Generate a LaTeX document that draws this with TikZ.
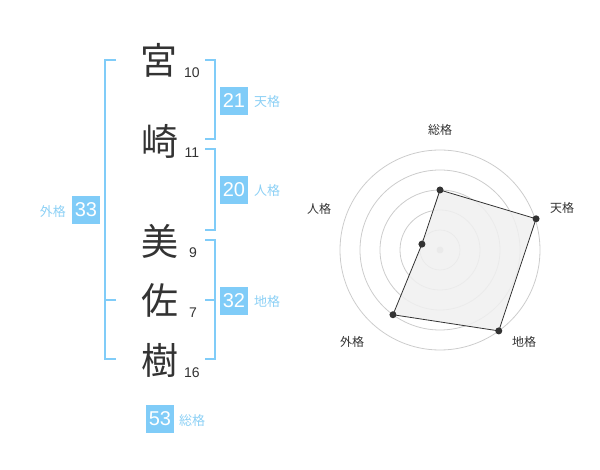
\documentclass[tikz,border=0pt]{standalone}
\usepackage{fontspec}
\setmainfont{Liberation Sans}
\newfontfamily\jp{Noto Sans CJK JP}
\definecolor{kblue}{RGB}{128,204,248}
\definecolor{lblue}{RGB}{140,208,245}
\definecolor{ink}{RGB}{51,51,51}
\definecolor{ring}{RGB}{204,204,204}
\definecolor{area}{RGB}{240,240,240}
\begin{document}
\begin{tikzpicture}[x=1pt,y=-1pt,
  kanji/.style={font=\jp\fontsize{37}{37}\selectfont, text=ink, inner sep=0},
  strokes/.style={font=\fontsize{14}{14}\selectfont, text=ink, inner sep=0},
  box/.style={fill=kblue, text=white, minimum size=28pt, inner sep=0, font=\fontsize{20}{20}\selectfont},
  lab/.style={text=lblue, font=\jp\fontsize{13}{13}\selectfont, inner sep=0},
  brk/.style={draw=kblue, line width=2pt},
  rlab/.style={text=ink, font=\jp\fontsize{12}{12}\selectfont, inner sep=0},
  ringline/.style={draw=ring, line width=0.8pt},
  dot/.style={circle, fill=ink, inner sep=0, minimum size=7pt}]
\useasboundingbox (0,0) rectangle (600,470);
% characters
\node[kanji] (k1) at (159,60) {宮};
\node[kanji] (k2) at (160,141) {崎};
\node[kanji] (k3) at (160,241) {美};
\node[kanji] (k4) at (160,300) {佐};
\node[kanji] (k5) at (160,360) {樹};
\node[strokes] (n1) at (192,73) {10};
\node[strokes] (n2) at (192,153) {11};
\node[strokes] (n3) at (193,253) {9};
\node[strokes] (n4) at (193,313) {7};
\node[strokes] (n5) at (192,373) {16};
% brackets
\coordinate (a1) at (205,60); \coordinate (a2) at (205,139);
\coordinate (b1) at (205,149); \coordinate (b2) at (205,230);
\coordinate (c1) at (205,240); \coordinate (c2) at (205,359); \coordinate (cm) at (205,300);
\draw[brk] (a1) -- ++(10,0) |- (a2);
\draw[brk] (b1) -- ++(10,0) |- (b2);
\draw[brk] (c1) -- ++(10,0) |- (c2);
\draw[brk] (cm) -- ++(10,0);
\coordinate (d1) at (116,60); \coordinate (d2) at (116,359); \coordinate (dm) at (116,300);
\draw[brk] (d1) -- ++(-11,0) |- (d2);
\draw[brk] (dm) -- ++(-11,0);
% boxes
\node[box] (t) at (234,101) {21};
\node[lab, anchor=west] (tl) at (254,102) {天格};
\node[box] (j) at (234,190) {20};
\node[lab, anchor=west] (jl) at (254,191) {人格};
\node[box] (c) at (234,301) {32};
\node[lab, anchor=west] (cl) at (254,302) {地格};
\node[box] (g) at (86,210) {33};
\node[lab, anchor=east] (gl) at (66,212) {外格};
\node[box] (s) at (160,419) {53};
\node[lab, anchor=west] (sl) at (179,421) {総格};
% radar
\coordinate (o) at (440,250);
\foreach \r in {20,40,60,80,100} \draw[ringline] (o) circle[radius=\r pt];
\fill[ring] (o) circle[radius=3.5pt];
\coordinate (p1) at ([shift={(90:60pt)}]o);
\coordinate (p2) at ([shift={(18:101pt)}]o);
\coordinate (p3) at ([shift={(-54:100pt)}]o);
\coordinate (p4) at ([shift={(-126:80pt)}]o);
\coordinate (p5) at ([shift={(162:19pt)}]o);
\draw[fill=area, fill opacity=0.85, draw=ink, line width=0.8pt] (p1) -- (p2) -- (p3) -- (p4) -- (p5) -- cycle;
\foreach \p in {p1,p2,p3,p4,p5} \node[dot] at (\p) {};
\node[rlab] (r1) at (440,130) {総格};
\node[rlab] (r2) at (562,208) {天格};
\node[rlab] (r3) at (524,342) {地格};
\node[rlab] (r4) at (352,342) {外格};
\node[rlab] (r5) at (319,209) {人格};
\end{tikzpicture}
\end{document}
